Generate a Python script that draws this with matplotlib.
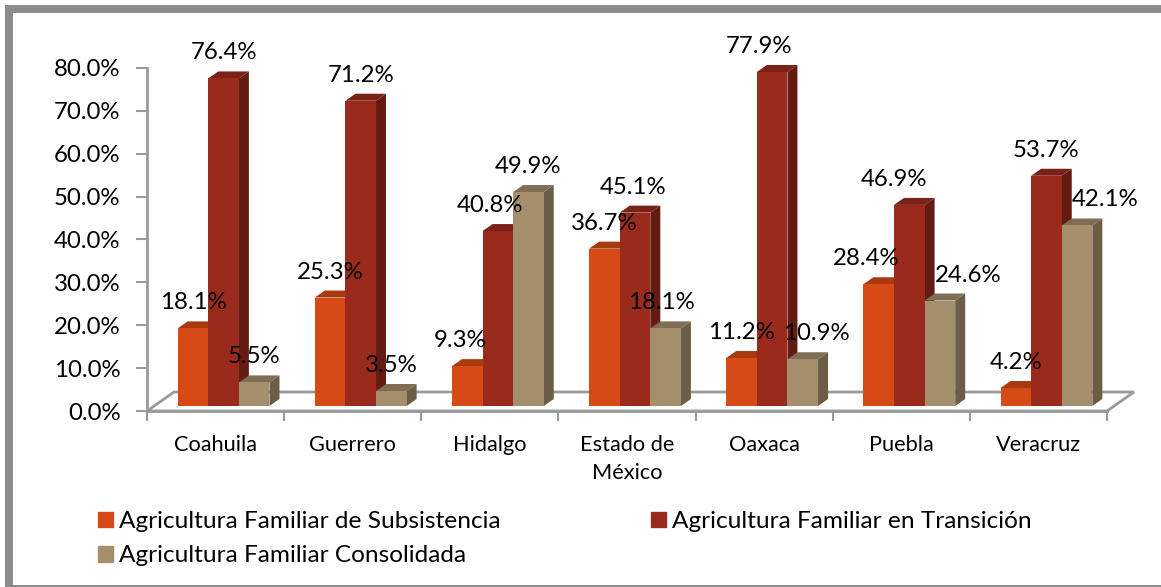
"""Agricultura familiar por estado, pseudo-3D grouped bars."""
from matplotlib import pyplot as plt
from matplotlib.patches import Patch, Polygon, Rectangle

categories = ["Coahuila", "Guerrero", "Hidalgo", "Estado de\nMéxico", "Oaxaca", "Puebla", "Veracruz"]
subsistencia = [18.1, 25.3, 9.3, 36.7, 11.2, 28.4, 4.2]
transicion = [76.4, 71.2, 40.8, 45.1, 77.9, 46.9, 53.7]
consolidada = [5.5, 3.5, 49.9, 18.1, 10.9, 24.6, 42.1]
series_names = ["Agricultura Familiar de Subsistencia", "Agricultura Familiar en Transición",
                "Agricultura Familiar Consolidada"]
y_ticks = [0, 10, 20, 30, 40, 50, 60, 70, 80]

# front, top, side
colors = [("#D64A16", "#A83A10", "#8E3210"), ("#9A2B1C", "#7A2217", "#641B12"),
          ("#A48E6C", "#7F6E53", "#6B5D46")]
GRAY = "#9A9A9A"
W, H = 1161, 587
LEFT, RIGHT, TOP, BOTTOM = 147, 1107, 68, 411  # axes box in pixels

# label nudges in pixels, same shape as the series
nudge = [[0, 0, -7, 0, 0, -12, 0], [0, 0, -8, -2, -13, -15, 0], [0, 0, 0, -4, 14, 28, 28]]

fig = plt.figure(figsize=(W / 100, H / 100), dpi=100)
plt.rcParams["font.family"] = ["Lato", "DejaVu Sans"]
ax = fig.add_axes([LEFT / W, 1 - BOTTOM / H, (RIGHT - LEFT) / W, (BOTTOM - TOP) / H])
ax.set_xlim(0, 7)
ax.set_ylim(0, 80)

px_x = 7 / (RIGHT - LEFT)
px_y = 80 / (BOTTOM - TOP)
bar_w = 30.6 * px_x
dx, dy = 10 * px_x, 7 * px_y
base = 5 * px_y
shift = 8 * px_x

# floor of the fake 3D box
fx, fy = 27 * px_x, 19 * px_y
ax.add_patch(Polygon([(0, 0), (fx, fy), (7 + fx, fy), (7, 0)], closed=True, facecolor="white",
                     edgecolor=GRAY, linewidth=2, clip_on=False, zorder=1))

for s, values in enumerate([subsistencia, transicion, consolidada]):
    front, top, side = colors[s]
    for i, v in enumerate(values):
        x0 = i + 0.5 + shift + (s - 1.5) * bar_w
        y1 = base + v
        z = 2 + i + s * 0.1
        ax.add_patch(Polygon([(x0, y1), (x0 + dx, y1 + dy), (x0 + bar_w + dx, y1 + dy), (x0 + bar_w, y1)],
                             closed=True, facecolor=top, edgecolor="none", clip_on=False, zorder=z))
        ax.add_patch(Polygon([(x0 + bar_w, base), (x0 + bar_w + dx, base + dy), (x0 + bar_w + dx, y1 + dy),
                              (x0 + bar_w, y1)],
                             closed=True, facecolor=side, edgecolor="none", clip_on=False, zorder=z))
        ax.add_patch(Rectangle((x0, base), bar_w, v, facecolor=front, edgecolor="none", clip_on=False, zorder=z))
        ax.text(x0 + bar_w / 2 + nudge[s][i] * px_x, y1 + dy + 18.5 * px_y, f"{v:.1f}%", ha="center", va="center",
                fontsize=17.3, color="black", zorder=30)

ax.patch.set_visible(False)
for name in ["top", "right"]:
    ax.spines[name].set_visible(False)
ax.spines["left"].set_color(GRAY)
ax.spines["bottom"].set_color(GRAY)
ax.spines["left"].set_linewidth(2)
ax.spines["bottom"].set_linewidth(2)

ax.set_yticks(y_ticks)
ax.set_yticklabels([f"{t:.1f}%" for t in y_ticks], fontsize=17.3)
ax.tick_params(axis="y", length=8, width=1.5, color=GRAY, pad=11)
ax.set_xticks(range(8))
ax.set_xticklabels([""] * 8)
ax.tick_params(axis="x", length=7, width=1.5, color=GRAY)
ax.set_xticks([i + 0.5 for i in range(7)], minor=True)
ax.set_xticklabels(categories, minor=True, fontsize=15.7, linespacing=1.5)
ax.tick_params(axis="x", which="minor", length=0, pad=17)

handles = [Patch(color=colors[0][0]), Patch(color=colors[2][0]), Patch(color=colors[1][0])]
labels = [series_names[0], series_names[2], series_names[1]]
fig.legend(handles, labels, ncol=2, frameon=False, fontsize=17.6, loc="upper left",
           bbox_to_anchor=(98 / W, 1 - 511 / H), borderpad=0, borderaxespad=0, handlelength=0.61,
           handleheight=0.61, handletextpad=0.25, columnspacing=6.16, labelspacing=0.55)

# chart frame, left and top thick, bottom thin
fig.add_artist(Rectangle((5 / W, 0), 8 / W, 1 - 5 / H, transform=fig.transFigure, facecolor="#8C8C8C", edgecolor="none"))
fig.add_artist(Rectangle((5 / W, 1 - 13 / H), 1 - 5 / W, 8 / H, transform=fig.transFigure, facecolor="#8C8C8C",
                         edgecolor="none"))
fig.add_artist(Rectangle((5 / W, 0), 1 - 5 / W, 2 / H, transform=fig.transFigure, facecolor="#8C8C8C", edgecolor="none"))

fig.savefig("out.png", dpi=100)
